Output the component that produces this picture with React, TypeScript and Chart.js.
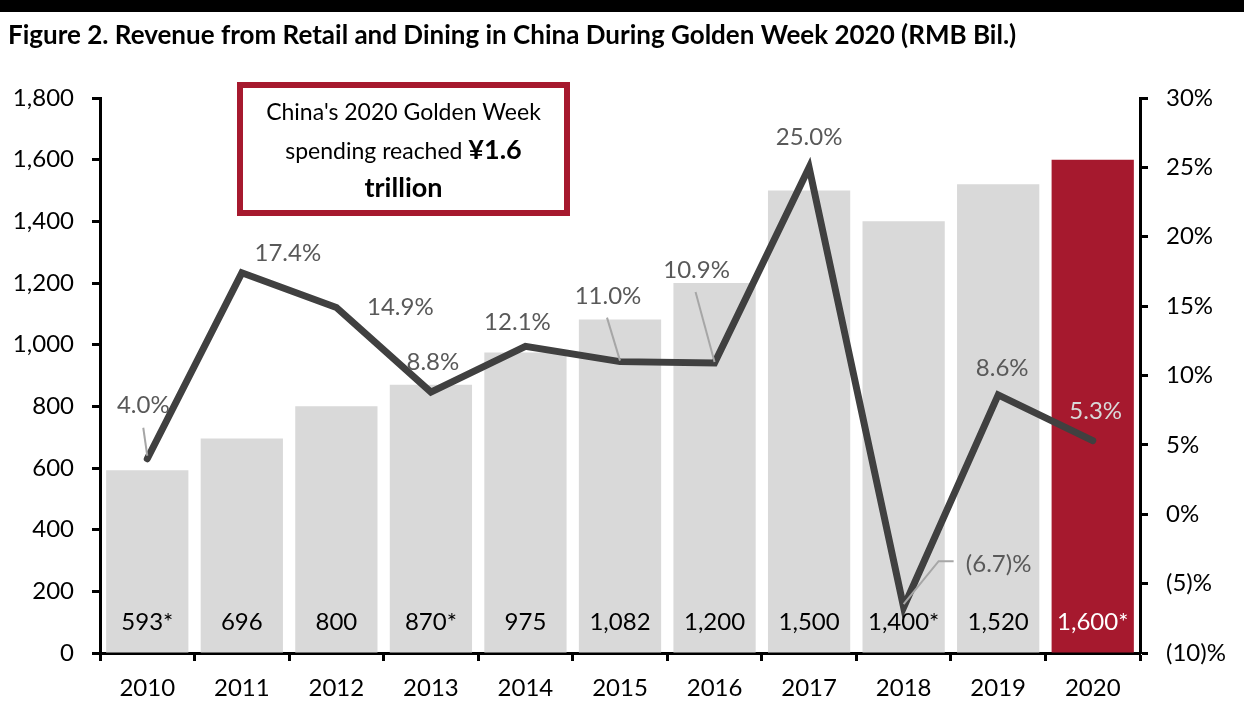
import React, { useEffect, useRef } from "react";
import { Chart, registerables } from "chart.js";

Chart.register(...registerables);

const YEARS = ["2010", "2011", "2012", "2013", "2014", "2015", "2016", "2017", "2018", "2019", "2020"];
const REVENUE = [593, 696, 800, 870, 975, 1082, 1200, 1500, 1400, 1520, 1600];
const REVENUE_LABELS = ["593*", "696", "800", "870*", "975", "1,082", "1,200", "1,500", "1,400*", "1,520", "1,600*"];
const GROWTH = [4.0, 17.4, 14.9, 8.8, 12.1, 11.0, 10.9, 25.0, -6.7, 8.6, 5.3];
const GROWTH_LABELS = ["4.0%", "17.4%", "14.9%", "8.8%", "12.1%", "11.0%", "10.9%", "25.0%", "(6.7)%", "8.6%", "5.3%"];

const TITLE = "Figure 2. Revenue from Retail and Dining in China During Golden Week 2020 (RMB Bil.)";
const CALLOUT_LINE1 = "China's 2020 Golden Week";
const CALLOUT_LINE2A = "spending reached ";
const CALLOUT_LINE2B = "¥1.6";
const CALLOUT_LINE3 = "trillion";

const FONT = "Lato, 'Open Sans', sans-serif";
const RED = "#A6192E";
const GRAY_BAR = "#D9D9D9";
const LINE_COLOR = "#404040";
const LABEL_GRAY = "#595959";

// label offsets (px) relative to the point, and optional leader line geometry (relative to point)
const LABEL_STYLE: { dx: number; dy: number; leader?: number[][] }[] = [
  { dx: -4, dy: -53, leader: [[-4, -31], [0, -3]] },
  { dx: 46, dy: -20 },
  { dx: 64, dy: 0 },
  { dx: 2, dy: -30 },
  { dx: -8, dy: -24 },
  { dx: -12, dy: -65, leader: [[-13, -44], [0, -1]] },
  { dx: -18, dy: -93, leader: [[-19, -71], [0, -1]] },
  { dx: 0, dy: -30 },
  { dx: 95, dy: -43, leader: [[0, -3], [35, -46], [50, -46]] },
  { dx: 4, dy: -27 },
  { dx: 3, dy: -29 },
];

export default function App() {
  const ref = useRef<HTMLCanvasElement | null>(null);

  useEffect(() => {
    const canvas = ref.current;
    if (!canvas) return;

    const decor = {
      id: "decor",
      beforeDraw(chart: any) {
        const ctx = chart.ctx;
        ctx.save();
        ctx.fillStyle = "#fff";
        ctx.fillRect(0, 0, chart.width, chart.height);
        ctx.fillStyle = "#000";
        ctx.fillRect(0, 0, chart.width, 12);
        ctx.font = `bold 26px ${FONT}`;
        ctx.textBaseline = "alphabetic";
        ctx.textAlign = "left";
        ctx.fillText(TITLE, 8, 44);
        ctx.restore();
      },
      afterDatasetsDraw(chart: any) {
        const ctx = chart.ctx;
        const area = chart.chartArea;
        const barMeta = chart.getDatasetMeta(0);
        const lineMeta = chart.getDatasetMeta(1);
        ctx.save();
        ctx.textAlign = "center";
        ctx.textBaseline = "middle";
        ctx.font = `24px ${FONT}`;
        barMeta.data.forEach((el: any, i: number) => {
          ctx.fillStyle = i === REVENUE.length - 1 ? "#fff" : "#000";
          ctx.fillText(REVENUE_LABELS[i], el.x, area.bottom - 31);
        });
        lineMeta.data.forEach((pt: any, i: number) => {
          const st = LABEL_STYLE[i];
          if (st.leader) {
            ctx.strokeStyle = "#A6A6A6";
            ctx.lineWidth = 2;
            ctx.beginPath();
            st.leader.forEach((p, k) => {
              if (k === 0) ctx.moveTo(pt.x + p[0], pt.y + p[1]);
              else ctx.lineTo(pt.x + p[0], pt.y + p[1]);
            });
            ctx.stroke();
          }
          ctx.fillStyle = i === GROWTH.length - 1 ? "#D9D9D9" : LABEL_GRAY;
          ctx.fillText(GROWTH_LABELS[i], pt.x + st.dx, pt.y + st.dy);
        });
        ctx.restore();
      },
      afterDraw(chart: any) {
        const ctx = chart.ctx;
        ctx.save();
        const bx = 237, by = 82, bw = 333, bh = 134;
        ctx.fillStyle = "#fff";
        ctx.fillRect(bx, by, bw, bh);
        ctx.strokeStyle = RED;
        ctx.lineWidth = 6;
        ctx.strokeRect(bx + 3, by + 3, bw - 6, bh - 6);
        const cx = bx + bw / 2;
        ctx.fillStyle = "#000";
        ctx.textBaseline = "middle";
        ctx.textAlign = "center";
        ctx.font = `23px ${FONT}`;
        ctx.fillText(CALLOUT_LINE1, cx, 113);
        ctx.textAlign = "left";
        const regFont = `23px ${FONT}`;
        const boldFont = `bold 27px ${FONT}`;
        ctx.font = regFont;
        const wa = ctx.measureText(CALLOUT_LINE2A).width;
        ctx.font = boldFont;
        const wb = ctx.measureText(CALLOUT_LINE2B).width;
        const sx = cx - (wa + wb) / 2;
        ctx.font = regFont;
        ctx.fillText(CALLOUT_LINE2A, sx, 152);
        ctx.font = boldFont;
        ctx.fillText(CALLOUT_LINE2B, sx + wa, 150);
        ctx.textAlign = "center";
        ctx.fillText(CALLOUT_LINE3, cx, 188);
        ctx.restore();
      },
    };

    const chart = new Chart(canvas, {
      type: "bar",
      data: {
        labels: YEARS,
        datasets: [
          {
            type: "bar",
            data: REVENUE,
            backgroundColor: REVENUE.map((_, i) => (i === REVENUE.length - 1 ? RED : GRAY_BAR)),
            barPercentage: 0.87,
            categoryPercentage: 1,
            yAxisID: "y",
            order: 1,
          },
          {
            type: "line",
            data: GROWTH,
            borderColor: LINE_COLOR,
            borderWidth: 7,
            pointRadius: 0,
            borderJoinStyle: "miter",
            borderCapStyle: "round",
            tension: 0,
            yAxisID: "y1",
            order: 0,
          } as any,
        ],
      },
      options: {
        responsive: false,
        animation: false,
        layout: { padding: { top: 98, left: 0, right: 0, bottom: 0 } },
        plugins: { legend: { display: false }, tooltip: { enabled: false }, title: { display: false } },
        scales: {
          x: {
            offset: true,
            grid: { drawOnChartArea: false, offset: true, tickLength: 8, tickWidth: 3, tickColor: "#000" },
            border: { display: true, color: "#000", width: 3 },
            ticks: { color: "#000", font: { family: FONT, size: 24 }, padding: 13 },
            afterFit: (s: any) => { s.height = 73; },
          },
          y: {
            position: "left",
            min: 0,
            max: 1800,
            ticks: {
              stepSize: 200,
              color: "#000",
              font: { family: FONT, size: 24 },
              padding: 18,
              callback: (v: any) => Number(v).toLocaleString("en-US"),
            },
            grid: { drawOnChartArea: false, tickLength: 8, tickWidth: 3, tickColor: "#000" },
            border: { display: true, color: "#000", width: 3 },
            afterFit: (s: any) => { s.width = 100; },
          },
          y1: {
            position: "right",
            min: -10,
            max: 30,
            ticks: {
              stepSize: 5,
              color: "#000",
              font: { family: FONT, size: 24 },
              padding: 18,
              callback: (v: any) => (Number(v) < 0 ? `(${-Number(v)})%` : `${v}%`),
            },
            grid: { drawOnChartArea: false, tickLength: 8, tickWidth: 3, tickColor: "#000" },
            border: { display: true, color: "#000", width: 3 },
            afterFit: (s: any) => { s.width = 104; },
          },
        },
      },
      plugins: [decor],
    });

    return () => chart.destroy();
  }, []);

  return (
    <canvas
      ref={ref}
      width={1244}
      height={726}
      style={{ position: "absolute", left: 0, top: 0, display: "block" }}
    />
  );
}
